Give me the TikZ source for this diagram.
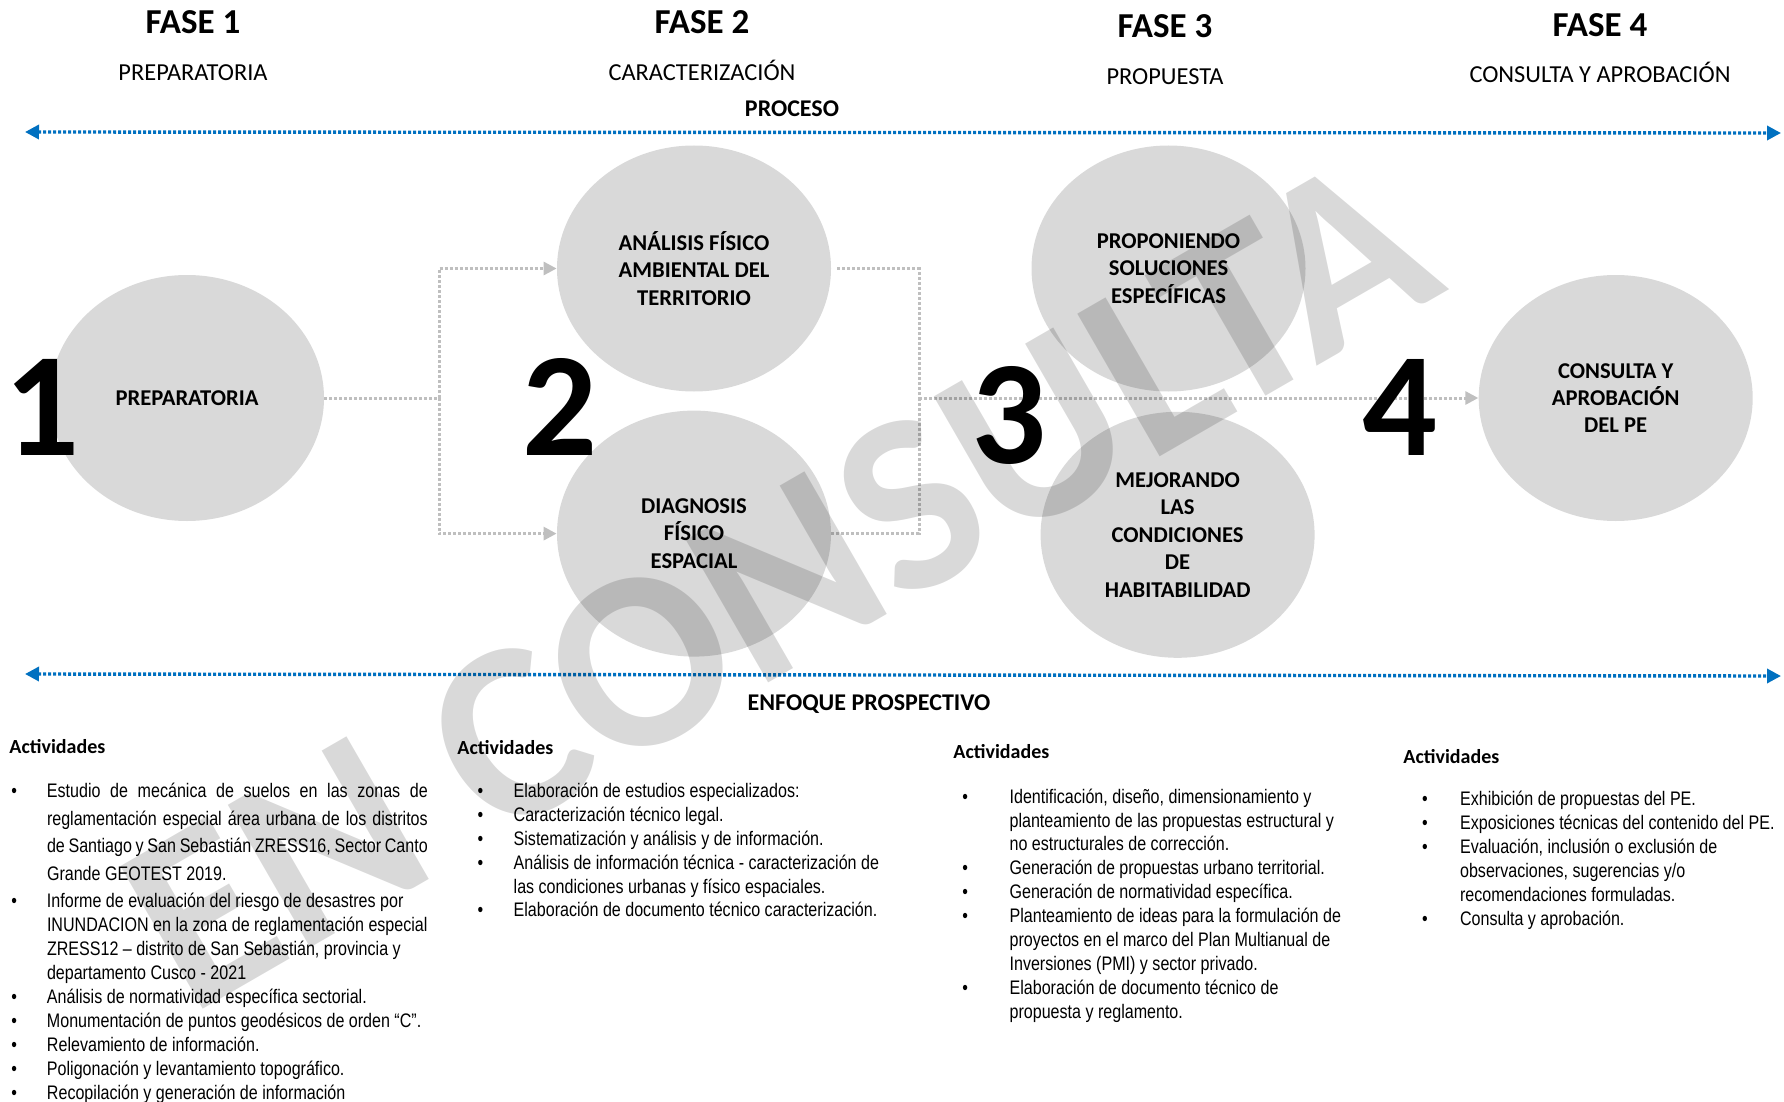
\documentclass[tikz,border=0pt]{standalone}
\usepackage{fontspec}
\setmainfont{Carlito}
\newfontfamily\narrowfont[FakeStretch=0.82]{Liberation Sans}
\usepackage{tikz}
\usetikzlibrary{positioning}
\usetikzlibrary{arrows.meta,shapes.geometric}

\definecolor{stagegray}{HTML}{D9D9D9}
\definecolor{linkgray}{HTML}{BFBFBF}
\definecolor{axisblue}{HTML}{0070C0}

\begin{document}
\begin{tikzpicture}[x=0.5pt,y=-0.5pt,
  fase/.style={font=\bfseries\fontsize{17.5}{20}\selectfont, inner sep=0pt, anchor=base},
  subfase/.style={font=\fontsize{12.2}{14}\selectfont, inner sep=0pt, anchor=base},
  proc/.style={font=\bfseries\fontsize{12}{14}\selectfont, inner sep=0pt, anchor=base},
  stage/.style={ellipse, fill=stagegray, minimum width=137pt, minimum height=123pt,
    inner sep=0pt, align=center, font=\bfseries\fontsize{11.3}{13.7}\selectfont},
  bignum/.style={font=\bfseries\fontsize{74}{74}\selectfont, inner sep=0pt},
  link/.style={draw=linkgray, line width=1.5pt, dash pattern=on 1.5pt off 1pt},
  linkarrow/.style={link, -{Triangle[length=6.5pt,width=6.5pt]}},
  axis/.style={draw=axisblue, line width=1.7pt, dash pattern=on 1.5pt off 1pt,
    {Triangle[length=7pt,width=7pt]}-{Triangle[length=7pt,width=7pt]}},
  acthead/.style={font=\bfseries\fontsize{10}{12}\selectfont, inner sep=0pt, anchor=base west},
  actlist/.style={font=\narrowfont\fontsize{9.8}{11.95}\selectfont, inner sep=0pt, anchor=north west},
  watermark/.style={font=\bfseries\fontsize{127}{127}\selectfont, text=black, text opacity=0.15, inner sep=0pt}
]

\useasboundingbox (0,0) rectangle (1784,1102);

% phases
\foreach \i/\x/\y/\sub in {1/193/34/PREPARATORIA, 2/702/34/CARACTERIZACIÓN,
    3/1165/37.5/PROPUESTA, 4/1600/36.3/CONSULTA Y APROBACIÓN} {
  \node[fase] (fase\i) at (\x,\y) {FASE \i};
  \node[subfase] (sub\i) at (\x,\y+46.7) {\sub};
}

% process axis
\node[proc] (proceso) at (792,117) {PROCESO};
\coordinate (pl) at (25,132);
\coordinate (pr) at (1781,133);
\draw[axis] (pl) -- (pr);

% stages
\node[stage] (prep) at (187,398) {PREPARATORIA};
\node[stage] (anal) at (694,268.5) {ANÁLISIS FÍSICO\\AMBIENTAL DEL\\TERRITORIO};
\node[stage] (diag) at (694,533.6) {DIAGNOSIS\\FÍSICO\\ESPACIAL};
\node[stage] (prop) at (1168.5,268.5) {PROPONIENDO\\SOLUCIONES\\ESPECÍFICAS};
\node[stage] (mejo) at (1177.6,534.8) {MEJORANDO\\LAS\\CONDICIONES\\DE\\HABITABILIDAD};
\node[stage] (cons) at (1615.7,398) {CONSULTA Y\\APROBACIÓN\\DEL PE};

% links
\coordinate (split) at (439,398);
\coordinate (merge) at (919,398);
\draw[link] (prep) -- (split);
\draw[linkarrow] (split) |- (anal);
\draw[linkarrow] (split) |- (diag);
\draw[link] ([xshift=3pt]anal.east) -| (merge);
\draw[link] (diag.east) -| (merge);
\draw[linkarrow] (merge) -- (cons);

% phase numbers
\node[bignum] (n1) at (42,407) {1};
\node[bignum] (n2) at (560,407) {2};
\node[bignum] (n3) at (1009,415) {3};
\node[bignum] (n4) at (1399.5,407) {4};

% prospective axis
\coordinate (el) at (25,674);
\coordinate (er) at (1781,676);
\draw[axis] (el) -- (er);
\node[proc] (enfoque) at (869,710) {ENFOQUE PROSPECTIVO};

% activities
\node[acthead] (head1) at (9,753) {Actividades};
\node[acthead] (head2) at (457,754) {Actividades};
\node[acthead] (head3) at (953,758.5) {Actividades};
\node[acthead] (head4) at (1403,763) {Actividades};

\node[actlist] (act1) at (11,780.3) {%
\begin{tabular}{@{}p{17.8pt}@{}l@{}}
\textbullet & \makebox[190.4pt][s]{Estudio de mecánica de suelos en las zonas de}\\[1.9pt]
 & \makebox[190.4pt][s]{reglamentación especial área urbana de los distritos}\\[1.9pt]
 & \makebox[190.4pt][s]{de Santiago y San Sebastián ZRESS16, Sector Canto}\\[1.9pt]
 & Grande GEOTEST 2019.\\[1.7pt]
\textbullet & Informe de evaluación del riesgo de desastres por\\
 & INUNDACION en la zona de reglamentación especial\\
 & ZRESS12 – distrito de San Sebastián, provincia y\\
 & departamento Cusco - 2021\\
\textbullet & Análisis de normatividad específica sectorial.\\
\textbullet & Monumentación de puntos geodésicos de orden “C”.\\
\textbullet & Relevamiento de información.\\
\textbullet & Poligonación y levantamiento topográfico.\\
\textbullet & Recopilación y generación de información
\end{tabular}};

\node[actlist] (act2) at (477.3,780.3) {%
\begin{tabular}{@{}p{18pt}@{}l@{}}
\textbullet & Elaboración de estudios especializados:\\
\textbullet & Caracterización técnico legal.\\
\textbullet & Sistematización y análisis y de información.\\
\textbullet & Análisis de información técnica - caracterización de\\
 & las condiciones urbanas y físico espaciales.\\
\textbullet & Elaboración de documento técnico caracterización.
\end{tabular}};

\node[actlist] (act3) at (962,786) {%
\begin{tabular}{@{}p{23.6pt}@{}l@{}}
\textbullet & Identificación, diseño, dimensionamiento y\\
 & planteamiento de las propuestas estructural y\\
 & no estructurales de corrección.\\
\textbullet & Generación de propuestas urbano territorial.\\
\textbullet & Generación de normatividad específica.\\
\textbullet & Planteamiento de ideas para la formulación de\\
 & proyectos en el marco del Plan Multianual de\\
 & Inversiones (PMI) y sector privado.\\
\textbullet & Elaboración de documento técnico de\\
 & propuesta y reglamento.
\end{tabular}};

\node[actlist] (act4) at (1421.7,788.5) {%
\begin{tabular}{@{}p{19pt}@{}l@{}}
\textbullet & Exhibición de propuestas del PE.\\
\textbullet & Exposiciones técnicas del contenido del PE.\\
\textbullet & Evaluación, inclusión o exclusión de\\
 & observaciones, sugerencias y/o\\
 & recomendaciones formuladas.\\
\textbullet & Consulta y aprobación.
\end{tabular}};

% watermark
\node[watermark, rotate=30] (sello) at (779,582) {EN CONSULTA};

\end{tikzpicture}
\end{document}
